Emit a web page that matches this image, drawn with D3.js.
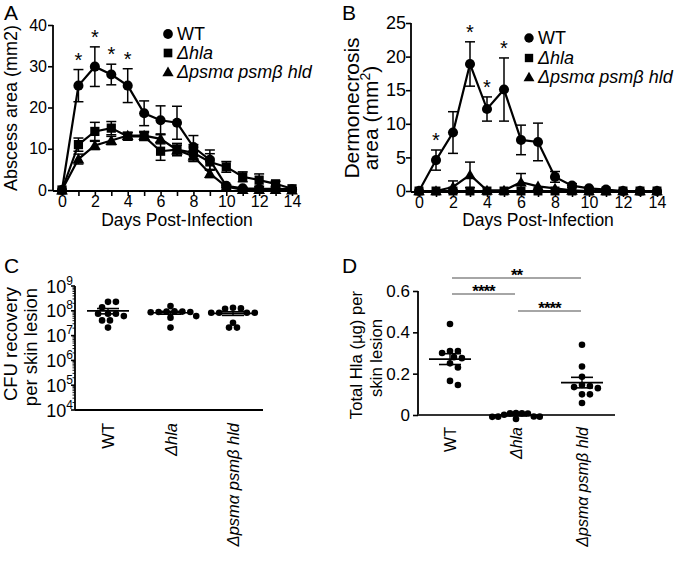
<!DOCTYPE html>
<html><head><meta charset="utf-8">
<script src="https://cdn.jsdelivr.net/npm/d3@7"></script>
<style>
body{margin:0;background:#fff}
svg{display:block}
text{font-family:"Liberation Sans",Arial,Helvetica,sans-serif;fill:#000}
</style>
</head><body>
<svg id="chart" width="676" height="561"></svg>
<script>
// ---------- DATA ----------
const days = [0,1,2,3,4,5,6,7,8,9,10,11,12,13,14];
const dayTickLabels = [0,2,4,6,8,10,12,14];
const groups = ["WT","Δhla","Δpsmα psmβ hld"];

// Panel A: abscess area (mm2), mean and SEM
const abscessWT     = [0,25.3,29.9,28.0,25.3,18.6,16.9,16.3,10.4,7.3,1.0,0.4,0.3,0.3,0.2];
const abscessWTsem  = [0,3.9,4.8,2.5,4.1,3.0,3.5,4.0,2.8,2.4,0.3,0.2,0.1,0.1,0.1];
const abscessHla    = [0,11.0,14.2,15.0,13.0,13.0,9.4,9.8,9.0,6.8,5.6,3.2,2.4,1.5,0.3];
const abscessHlaSem = [0,1.6,2.2,1.6,0.9,1.0,2.2,1.5,2.0,2.0,1.3,1.2,1.5,0.6,0.2];
const abscessPsm    = [0,7.5,10.8,12.0,13.2,13.2,12.4,9.7,8.2,4.0,0.8,0.1,0.1,0.1,0.0];
const abscessPsmSem = [0,1.2,1.0,1.0,0.8,1.0,1.2,1.2,1.3,1.0,0.3,0.1,0.1,0.1,0.0];
const abscessTicks  = [0,10,20,30,40];
const abscessStars  = [1,2,3,4];

// Panel B: dermonecrosis area (mm^2), mean and SEM
const dermoWT     = [0,4.6,8.7,18.9,12.2,15.1,7.6,7.3,2.1,0.8,0.4,0.2,0,0,0];
const dermoWTsem  = [0,1.5,3.1,3.3,1.8,4.7,2.2,2.8,0.8,0.3,0,0,0,0,0];
const dermoHla    = [0,0,0,0,0,0,0,0,0,0,0,0,0,0,0];
const dermoHlaSem = [0,0,0,0,0,0,0,0,0,0,0,0,0,0,0];
const dermoPsm    = [0,0,0.6,2.4,0.1,0.1,1.3,0.7,0.4,0.1,0,0,0,0,0];
const dermoPsmSem = [0,0,0.9,1.9,0,0,1.3,0,0,0,0,0,0,0,0];
const dermoTicks  = [0,5,10,15,20,25];
const dermoStars  = [1,3,4,5];

// Panel C: CFU recovery per skin lesion
const cfuWT  = [2.3e8,2.3e8,1.4e8,7.6e7,7.6e7,7.6e7,6.1e7,4.1e7,4.1e7,2.1e7];
const cfuHla = [1.55e8,9.5e7,9.3e7,9.3e7,9.0e7,9.0e7,8.8e7,6.1e7,5.3e7,2.1e7];
const cfuPsm = [1.32e8,1.25e8,1.2e8,8.3e7,8.3e7,8.3e7,8.3e7,3.3e7,2.1e7,2.1e7];
const cfuExponents = [4,5,6,7,8,9];

// Panel D: total Hla (µg) per skin lesion
const hlaWT  = [0.44,0.31,0.31,0.30,0.28,0.275,0.25,0.23,0.165,0.145];
const hlaHla = [0.009,0.008,0.008,0.007,0.001,-0.007,-0.008,-0.008,-0.009,-0.019];
const hlaPsm = [0.34,0.235,0.185,0.145,0.14,0.135,0.13,0.10,0.10,0.058];
const hlaTicks = [0,0.2,0.4,0.6];
const hlaSig = [
  {a:"WT", b:"Δhla", label:"****"},
  {a:"Δhla", b:"Δpsmα psmβ hld", label:"****"},
  {a:"WT", b:"Δpsmα psmβ hld", label:"**"}
];

// ---------- DRAW ----------
const svg = d3.select("#chart");

function italicLabel(sel, name){
  sel.append("tspan").attr("font-style", name==="WT" ? "normal" : "italic").text(name);
}
function panelLetter(t,x,y){
  svg.append("text").attr("x",x).attr("y",y).attr("font-size",21).text(t);
}
function symbolFor(i, size){
  const types=[d3.symbolCircle,d3.symbolSquare,d3.symbolTriangle];
  return d3.symbol().type(types[i]).size(size)();
}
function rotLabel(x,y,fs,txt){
  return svg.append("text").attr("transform",`translate(${x},${y}) rotate(-90)`)
    .attr("text-anchor","middle").attr("font-size",fs).text(txt);
}

function linePanel(opt){
  const g = svg.append("g");
  const x = d3.scaleLinear().domain([0,14]).range(opt.xr);
  const y = d3.scaleLinear().domain([0,opt.ymax]).range(opt.yr);
  const ya = g.append("g").attr("transform",`translate(${opt.axX},0)`)
    .call(d3.axisLeft(y).tickValues(opt.yticks).tickSize(5).tickSizeOuter(0).tickPadding(opt.ypad));
  ya.select(".domain").remove();
  ya.selectAll("line").attr("stroke","#000").attr("stroke-width",1.6);
  ya.selectAll("text").attr("font-size",opt.tfs).style("font-family","Liberation Sans, Arial");
  g.append("line").attr("x1",opt.axX).attr("x2",opt.axX).attr("y1",opt.axY).attr("y2",y(opt.ymax))
    .attr("stroke","#000").attr("stroke-width",1.8);
  const xa = g.append("g").attr("transform",`translate(0,${opt.axY})`)
    .call(d3.axisBottom(x).tickValues(days).tickSize(5).tickSizeOuter(0).tickPadding(0)
      .tickFormat(d => dayTickLabels.includes(d) ? d : ""));
  xa.select(".domain").remove();
  xa.selectAll("line").attr("stroke","#000").attr("stroke-width",1.6);
  xa.selectAll("text").attr("font-size",opt.xtfs).style("font-family","Liberation Sans, Arial");
  g.append("line").attr("x1",opt.axX).attr("x2",opt.xEnd).attr("y1",opt.axY).attr("y2",opt.axY)
    .attr("stroke","#000").attr("stroke-width",1.8);
  g.append("text").attr("x",(opt.xr[0]+opt.xr[1])/2).attr("y",226).attr("text-anchor","middle")
    .attr("font-size",17.5).text("Days Post-Infection");

  const line = d3.line().x((d,i)=>x(days[i])).y(d=>y(d));
  opt.order.forEach(si=>{
    const s = opt.series[si];
    g.append("path").attr("d",line(s.mean)).attr("fill","none").attr("stroke","#000").attr("stroke-width",2.2);
    s.mean.forEach((m,i)=>{
      const e = s.sem[i]; if(!e) return;
      const cx = x(days[i]);
      g.append("line").attr("x1",cx).attr("x2",cx).attr("y1",y(m-e)).attr("y2",y(m+e)).attr("stroke","#000").attr("stroke-width",1.5);
      [m-e,m+e].forEach(v=>g.append("line").attr("x1",cx-5).attr("x2",cx+5).attr("y1",y(v)).attr("y2",y(v)).attr("stroke","#000").attr("stroke-width",1.5));
    });
    s.mean.forEach((m,i)=>{
      g.append("path").attr("d",symbolFor(si,opt.msize[si]))
        .attr("transform",`translate(${x(days[i])},${y(m)+(si===2?1:0)})`).attr("fill","#000");
    });
  });
  opt.stars.forEach(d=>{
    const s=opt.series[0];
    g.append("text").attr("x",x(d)).attr("y",y(s.mean[d]+s.sem[d])-3).attr("text-anchor","middle")
      .attr("font-size",20).text("*");
  });
  groups.forEach((name,i)=>{
    const ly = opt.legY[i];
    g.append("path").attr("d",symbolFor(i,opt.lsize[i])).attr("transform",`translate(${opt.legX},${ly+(i===2?1:0)})`).attr("fill","#000");
    const t = g.append("text").attr("x",opt.legTX).attr("y",ly+opt.lfs*0.36).attr("font-size",opt.lfs);
    italicLabel(t,name);
  });
  return {x,y};
}

// Panel A
panelLetter("A",4,20);
linePanel({
  xr:[62,292], yr:[190,25], ymax:40, axX:53, axY:191, xEnd:297, yticks:abscessTicks, tfs:16, xtfs:16, ypad:1,
  series:[{mean:abscessWT,sem:abscessWTsem},{mean:abscessHla,sem:abscessHlaSem},{mean:abscessPsm,sem:abscessPsmSem}],
  order:[0,2,1], msize:[80,85,60], stars:abscessStars,
  legX:168, legTX:177, legY:[34,53,72], lfs:18, lsize:[75,75,55]
});
rotLabel(17,108,18,"Abscess area (mm2)");

// Panel B
panelLetter("B",342,20);
linePanel({
  xr:[419,657], yr:[191,23], ymax:25, axX:411, axY:192, xEnd:662, yticks:dermoTicks, tfs:18, xtfs:16, ypad:0,
  series:[{mean:dermoWT,sem:dermoWTsem},{mean:dermoHla,sem:dermoHlaSem},{mean:dermoPsm,sem:dermoPsmSem}],
  order:[2,0,1], msize:[80,80,58], stars:dermoStars,
  legX:529, legTX:538, legY:[38,58,77], lfs:18, lsize:[70,70,52]
});
rotLabel(359,108,21,"Dermonecrosis");
{
  const t2 = svg.append("text").attr("transform","translate(378,118) rotate(-90)").attr("text-anchor","middle").attr("font-size",21);
  t2.append("tspan").text("area (mm");
  t2.append("tspan").attr("font-size",14).attr("dy",-8).text("2");
  t2.append("tspan").attr("dy",8).text(")");
}

// beeswarm positioning (points may overlap slightly, as in the original)
function swarm(values, y, cx, r, f){
  const pts = values.map(v=>({v, py:y(v)})).sort((a,b)=>a.py-b.py);
  const placed=[];
  const minD = 2*r*f;
  pts.forEach(p=>{
    for(let k=0;k<80;k++){
      const off = k===0 ? 0 : (k%2 ? 1 : -1)*Math.ceil(k/2)*r*0.6;
      const px = cx+off;
      const ok = placed.every(q=>(q.px-px)**2+(q.py-p.py)**2 >= minD*minD);
      if(ok){ p.px=px; placed.push(p); break; }
    }
  });
  return placed;
}

function scatterPanel(opt){
  const g = svg.append("g");
  const x = d3.scalePoint().domain(groups).range(opt.cx);
  const y = opt.y;
  g.append("line").attr("x1",opt.axX).attr("x2",opt.axX).attr("y1",opt.axY).attr("y2",opt.yTop).attr("stroke","#000").attr("stroke-width",1.8);
  g.append("line").attr("x1",opt.axX).attr("x2",opt.xEnd).attr("y1",opt.axY).attr("y2",opt.axY).attr("stroke",opt.xcol).attr("stroke-width",1.8);
  opt.drawYTicks(g);
  groups.forEach(name=>{
    const t = g.append("text").attr("transform",`translate(${x(name)+6},${opt.axY+opt.labOff}) rotate(-90)`)
      .attr("text-anchor","end").attr("font-size",opt.cfs);
    italicLabel(t,name);
  });
  opt.data.forEach((vals,gi)=>{
    const cx = x(groups[gi]);
    const pts = swarm(vals,y,cx,3.3,opt.overlap[gi]);
    pts.forEach(p=>g.append("circle").attr("cx",p.px).attr("cy",p.py).attr("r",3.3).attr("fill","#000"));
    const mean = d3.mean(vals), sem = d3.deviation(vals)/Math.sqrt(vals.length);
    g.append("line").attr("x1",cx-21).attr("x2",cx+21).attr("y1",y(mean)).attr("y2",y(mean)).attr("stroke","#000").attr("stroke-width",1.6);
    [mean-sem,mean+sem].forEach(v=>g.append("line").attr("x1",cx-11).attr("x2",cx+11).attr("y1",y(v)).attr("y2",y(v)).attr("stroke","#000").attr("stroke-width",1.6));
    g.append("line").attr("x1",cx).attr("x2",cx).attr("y1",y(mean-sem)).attr("y2",y(mean+sem)).attr("stroke","#000").attr("stroke-width",1.4);
  });
  return {x,y,g};
}

// Panel C
panelLetter("C",4,273);
const yC = d3.scaleLog().domain([1e4,1e9]).range([410,286]);
scatterPanel({
  cx:[108,233], y:yC, axX:75, axY:410, yTop:286, xEnd:263, xcol:"#000", labOff:13, cfs:16.5,
  data:[cfuWT,cfuHla,cfuPsm], overlap:[1.05,0.95,0.95],
  drawYTicks:(g)=>{
    cfuExponents.forEach(e=>{
      const yy = yC(Math.pow(10,e));
      g.append("line").attr("x1",75-4).attr("x2",75).attr("y1",yy).attr("y2",yy).attr("stroke","#000").attr("stroke-width",1.6);
      if(e<9){
        [2,3,4,5,6,7,8,9].forEach(m=>{
          const ym=yC(m*Math.pow(10,e));
          g.append("line").attr("x1",75-2.5).attr("x2",75).attr("y1",ym).attr("y2",ym).attr("stroke","#000").attr("stroke-width",0.9);
        });
      }
      const t = g.append("text").attr("x",73).attr("y",yy+6.5).attr("text-anchor","end").attr("font-size",18);
      t.append("tspan").text("10");
      t.append("tspan").attr("font-size",12).attr("dy",-8).text(e);
    });
  }
});
rotLabel(17,344,18.5,"CFU recovery");
rotLabel(37,347,18.5,"per skin lesion");

// Panel D
panelLetter("D",342,273);
const yD = d3.scaleLinear().domain([0,0.6]).range([415,291]);
const pD = scatterPanel({
  cx:[450,582], y:yD, axX:418, axY:415, yTop:291, xEnd:615, xcol:"#333", labOff:12, cfs:16,
  data:[hlaWT,hlaHla,hlaPsm], overlap:[1.1,0.8,1.05],
  drawYTicks:(g)=>{
    const a = g.append("g").attr("transform","translate(418,0)")
      .call(d3.axisLeft(yD).tickValues(hlaTicks).tickSize(5).tickPadding(3).tickFormat(d=>d===0?"0":d3.format(".1f")(d)));
    a.select(".domain").remove();
    a.selectAll("line").attr("stroke","#000").attr("stroke-width",1.6);
    a.selectAll("text").attr("font-size",17).style("font-family","Liberation Sans, Arial");
  }
});
rotLabel(362,355,16.7,"Total Hla (µg) per");
rotLabel(382,358,16.7,"skin lesion");
const sigY = [294,311,278];
hlaSig.forEach((s,i)=>{
  const x1 = pD.x(s.a)+2, x2 = pD.x(s.b)-1;
  svg.append("line").attr("x1",x1).attr("x2",x2).attr("y1",sigY[i]).attr("y2",sigY[i]).attr("stroke","#888").attr("stroke-width",1.6);
  svg.append("text").attr("x",(x1+x2)/2).attr("y",sigY[i]+3).attr("text-anchor","middle")
    .attr("font-size",17).attr("font-weight","bold").attr("letter-spacing",-1).attr("fill","#222").text(s.label);
});
</script>
</body></html>
